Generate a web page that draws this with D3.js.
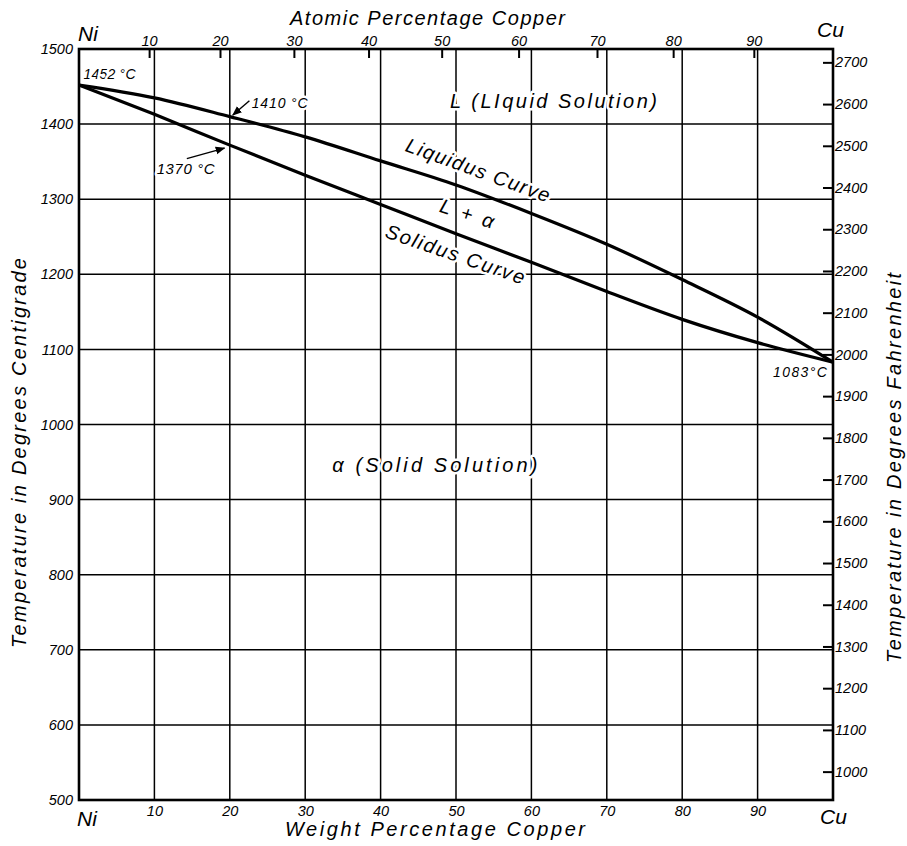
<!DOCTYPE html>
<html><head><meta charset="utf-8">
<script src="https://cdn.jsdelivr.net/npm/d3@7"></script>
<style>
html,body{margin:0;padding:0;background:#fff;}
svg{display:block;}
text{font-family:"Liberation Sans",Arial,sans-serif;font-style:italic;fill:#000;}
</style></head><body>
<svg id="chart" width="907" height="846"></svg>
<script>
// ---- data ----
const weightTicks = [10, 20, 30, 40, 50, 60, 70, 80, 90];
const tempCTicks = [500, 600, 700, 800, 900, 1000, 1100, 1200, 1300, 1400, 1500];
const tempFTicks = [1000, 1100, 1200, 1300, 1400, 1500, 1600, 1700, 1800, 1900, 2000, 2100, 2200, 2300, 2400, 2500, 2600, 2700];
const atomicLabels = ["10", "20", "30", "40", "50", "60", "70", "80", "90"];
const atomicTickWt = [9.3, 18.7, 28.5, 38.4, 48.1, 58.3, 68.7, 78.8, 89.5];

const liquidusWt = [0, 10, 20, 30, 40, 50, 60, 70, 80, 90, 100];
const liquidusT  = [1452, 1435, 1410, 1383, 1351, 1319, 1281, 1240, 1193, 1143, 1083];
const solidusWt  = [0, 10, 20, 30, 40, 50, 60, 70, 80, 90, 100];
const solidusT   = [1452, 1413, 1372, 1332, 1293, 1254, 1216, 1177, 1140, 1109, 1083];

// ---- layout ----
const svg = d3.select("#chart");
const x = d3.scaleLinear().domain([0, 100]).range([79, 833]);
const y = d3.scaleLinear().domain([500, 1500]).range([800, 49]);
const yF = d3.scaleLinear().domain([500 * 1.8 + 32, 1500 * 1.8 + 32]).range([800, 49]);

svg.append("rect").attr("width", 907).attr("height", 846).attr("fill", "#fff");

// grid
const grid = svg.append("g").attr("stroke", "#000").attr("stroke-width", 1.5);
grid.selectAll(".v").data(weightTicks).join("line")
  .attr("x1", d => x(d)).attr("x2", d => x(d)).attr("y1", y(1500)).attr("y2", y(500));
grid.selectAll(".h").data(tempCTicks.slice(1, -1)).join("line")
  .attr("y1", d => y(d)).attr("y2", d => y(d)).attr("x1", x(0)).attr("x2", x(100));

// axes
function styleAxis(g, fs) {
  g.select(".domain").remove();
  g.selectAll("line").attr("stroke", "#000").attr("stroke-width", 2);
  g.selectAll("text").attr("font-size", fs).attr("font-family", null).style("font-style", "italic");
}
svg.append("g").attr("transform", `translate(${x(0)},0)`)
  .call(d3.axisLeft(y).tickValues(tempCTicks).tickSize(0).tickPadding(6).tickFormat(d3.format("d")))
  .call(g => styleAxis(g, 14.5));
svg.append("g").attr("transform", `translate(${x(100)},0)`)
  .call(d3.axisRight(yF).tickValues(tempFTicks).tickSize(-10).tickPadding(2).tickFormat(d3.format("d")))
  .call(g => styleAxis(g, 14.5));
svg.append("g").attr("transform", `translate(0,${y(500)})`)
  .call(d3.axisBottom(x).tickValues(weightTicks).tickSize(0).tickPadding(6).tickFormat(d3.format("d")))
  .call(g => styleAxis(g, 14.5));
svg.append("g").attr("transform", `translate(0,${y(1500)})`)
  .call(d3.axisTop(x).tickValues(atomicTickWt).tickSize(-9).tickPadding(3).tickFormat((d, i) => atomicLabels[i]))
  .call(g => styleAxis(g, 14.5));

// frame
svg.append("rect").attr("x", x(0)).attr("y", y(1500))
  .attr("width", x(100) - x(0)).attr("height", y(500) - y(1500))
  .attr("fill", "none").attr("stroke", "#000").attr("stroke-width", 2.6);

// in-plot labels with white halo
function label(txt, px, py, opts = {}) {
  const t = svg.append("text").attr("x", px).attr("y", py).text(txt)
    .attr("font-size", opts.fs || 20)
    .attr("text-anchor", opts.anchor || "start");
  if (opts.len) t.attr("textLength", opts.len).attr("lengthAdjust", "spacing");
  if (opts.rot) t.attr("transform", `rotate(${opts.rot},${px},${py})`);
  if (opts.halo) t.attr("stroke", "#fff").attr("stroke-width", 5).attr("paint-order", "stroke").attr("stroke-linejoin", "round");
  return t;
}
label("L (LIquid Solution)", x(49.2), y(1421), {len: 207, halo: true});
label("α (Solid Solution)", x(33.6), y(937), {len: 205, halo: true});
label("Liquidus Curve", x(52.6), y(1330), {len: 152, rot: 20, anchor: "middle", halo: true});
label("Solidus Curve", x(49.6), y(1218), {len: 146, rot: 19, anchor: "middle", halo: true});
label("L + α", x(51.2), y(1272), {len: 56, rot: 18, anchor: "middle", halo: true});
label("1452 °C", x(0.6), y(1460), {fs: 14, len: 52, halo: true});
label("1410 °C", x(22.9), y(1421), {fs: 14, len: 56, halo: true});
label("1370 °C", x(10.3), y(1334), {fs: 15, len: 58, halo: true});
label("1083°C", x(99.2), y(1063), {fs: 14, len: 54, anchor: "end", halo: true});

// arrows
const defs = svg.append("defs");
defs.append("marker").attr("id", "ah").attr("viewBox", "0 0 10 10").attr("refX", 9).attr("refY", 5)
  .attr("markerWidth", 7).attr("markerHeight", 7).attr("orient", "auto-start-reverse")
  .append("path").attr("d", "M0,1 L10,5 L0,9 z").attr("fill", "#000");
const arrows = [
  {from: [22.6, 1431], to: [20.4, 1412]},
  {from: [14.3, 1354], to: [19.3, 1368]}
];
svg.append("g").selectAll("line").data(arrows).join("line")
  .attr("x1", d => x(d.from[0])).attr("y1", d => y(d.from[1]))
  .attr("x2", d => x(d.to[0])).attr("y2", d => y(d.to[1]))
  .attr("stroke", "#000").attr("stroke-width", 1.4).attr("marker-end", "url(#ah)");

// curves
const line = d3.line().x(d => x(d[0])).y(d => y(d[1])).curve(d3.curveMonotoneX);
svg.append("path").datum(d3.zip(liquidusWt, liquidusT)).attr("d", line)
  .attr("fill", "none").attr("stroke", "#000").attr("stroke-width", 3.2);
svg.append("path").datum(d3.zip(solidusWt, solidusT)).attr("d", line)
  .attr("fill", "none").attr("stroke", "#000").attr("stroke-width", 3.2);

// titles and end labels
label("Atomic  Percentage  Copper", 290, 25, {len: 275});
label("Weight  Percentage  Copper", 285, 836, {len: 300});
label("Ni", 78, 41, {fs: 21});
label("Cu", 817, 37, {fs: 21});
label("Ni", 77, 826, {fs: 21});
label("Cu", 820, 824, {fs: 21});
label("Temperature  in  Degrees  Centigrade", 26, 453, {len: 390, rot: -90, anchor: "middle"});
label("Temperature  in  Degrees  Fahrenheit", 901, 468, {len: 390, rot: -90, anchor: "middle"});
</script>
</body></html>
